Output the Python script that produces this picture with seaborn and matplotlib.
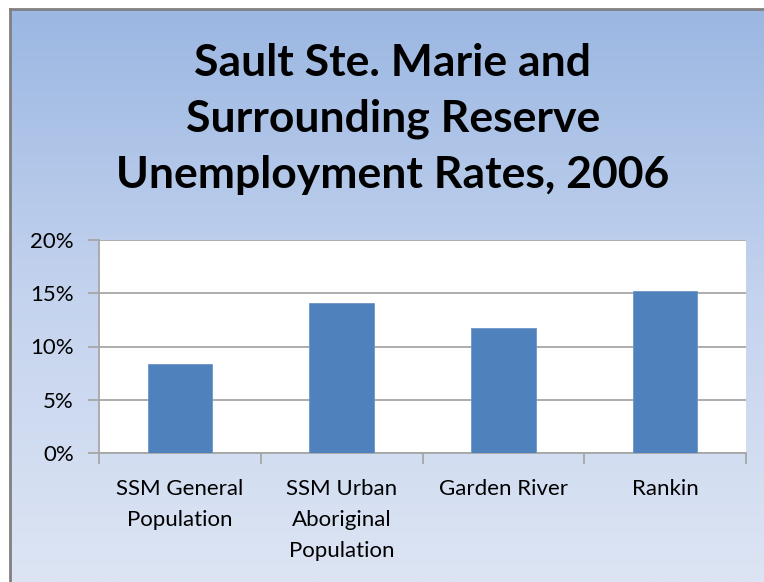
import numpy as np
import pandas as pd
import matplotlib
matplotlib.use("Agg")
import matplotlib.pyplot as plt
import seaborn as sns
from matplotlib.ticker import FixedLocator, FuncFormatter
from matplotlib.colors import LinearSegmentedColormap

categories = ["SSM General\nPopulation", "SSM Urban\nAboriginal\nPopulation", "Garden River", "Rankin"]
rates = [8.4, 14.1, 11.7, 15.2]
yticks = [0, 5, 10, 15, 20]
title = "Sault Ste. Marie and\nSurrounding Reserve\nUnemployment Rates, 2006"

sns.set_theme(style="white")
plt.rcParams['font.family'] = ['Lato', 'DejaVu Sans']

W, H = 764, 582
fig = plt.figure(figsize=(W / 100, H / 100), dpi=100)
fig.patch.set_facecolor("white")

# gradient background
bg = fig.add_axes([10 / W, 0, 1 - 10 / W, 1 - 9 / H], zorder=0)
grad = np.linspace(0, 1, 256).reshape(-1, 1)
cmap = LinearSegmentedColormap.from_list("bg", ["#9BB7E2", "#C4D3EE", "#DDE5F4"])
bg.imshow(grad, aspect="auto", cmap=cmap, extent=[0, 1, 0, 1], origin="upper")
bg.set_xlim(0, 1); bg.set_ylim(0, 1)
bg.set_xticks([]); bg.set_yticks([])
for s in ["right", "bottom"]:
    bg.spines[s].set_visible(False)
for s in ["left", "top"]:
    bg.spines[s].set_color("#808080")
    bg.spines[s].set_linewidth(2)

ax = fig.add_axes([99 / W, (H - 453) / H, (746 - 99) / W, (453 - 240) / H], zorder=1)
df = pd.DataFrame({"category": categories, "rate": rates})
sns.barplot(data=df, x="category", y="rate", color="#4F81BD", width=0.4,
            saturation=1, ax=ax, zorder=3, edgecolor="#6F95C8", linewidth=0.6)
ax.set_facecolor("white")
ax.set_ylim(0, 20)
ax.set_xlim(-0.5, len(categories) - 0.5)
ax.yaxis.set_major_locator(FixedLocator(yticks))
ax.yaxis.set_major_formatter(FuncFormatter(lambda v, p: f"{int(v)}%"))
ax.grid(axis="y", color="#A6A6A6", linewidth=1.3, zorder=0)
ax.set_axisbelow(True)
for s in ["top", "right"]:
    ax.spines[s].set_visible(False)
for s in ["left", "bottom"]:
    ax.spines[s].set_color("#A6A6A6")
    ax.spines[s].set_linewidth(1.3)
ax.set_xlabel(""); ax.set_ylabel("")
ax.set_xticks(np.arange(-0.5, len(categories), 1.0), minor=True)
ax.tick_params(axis="x", which="major", length=0, pad=19, labelsize=16, labelcolor="black")
ax.tick_params(axis="x", which="minor", length=8, width=1.3, color="#A6A6A6", direction="out", bottom=True)
ax.tick_params(axis="y", length=8, width=1.3, color="#A6A6A6", direction="out", left=True, pad=10,
               labelsize=16, labelcolor="black")
for lbl in ax.get_xticklabels():
    lbl.set_linespacing(1.68)
    lbl.set_verticalalignment("top")

fig.text(393 / W, 1 - 119 / H, title, ha="center", va="center", fontsize=32,
         fontweight="bold", color="black", linespacing=1.48)

fig.savefig("out.png", dpi=100, facecolor="white")
